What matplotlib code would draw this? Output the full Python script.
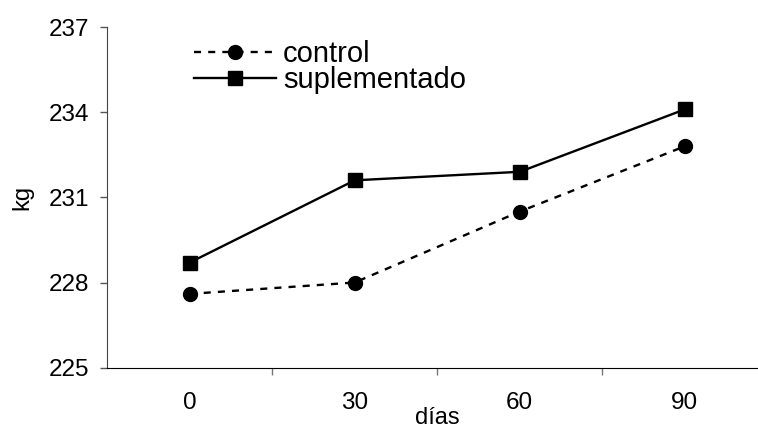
import numpy as np
import matplotlib
matplotlib.use('Agg')
import matplotlib.pyplot as plt

plt.rcParams['font.family'] = ['Liberation Sans', 'DejaVu Sans']

dias = ['0', '30', '60', '90']
control = [227.6, 228.0, 230.5, 232.8]
suplementado = [228.7, 231.6, 231.9, 234.1]

fig = plt.figure(figsize=(7.58, 4.30), dpi=100)
ax = fig.add_axes([0.1412, 0.1449, 0.8713, 0.7923])

x = np.arange(len(dias))
ax.plot(x, control, color='black', lw=1.7, ls=(0, (3, 3)), marker='o', ms=10,
        label='control')
ax.plot(x, suplementado, color='black', lw=1.7, marker='s', ms=10,
        label='suplementado')

ax.set_xlim(-0.5, 3.5)
ax.set_ylim(225, 237)
ax.set_yticks([225, 228, 231, 234, 237])
ax.set_xticks(x)
ax.set_xticklabels(dias)
ax.set_xticks(x[:-1] + 0.5, minor=True)

ax.tick_params(axis='x', which='major', length=0, pad=17.5, labelsize=17.5)
ax.tick_params(axis='x', which='minor', length=5, width=1, color='#777777',
               direction='out')
ax.tick_params(axis='y', length=5, width=1, color='#555555', pad=8,
               labelsize=17.5)

for s in ['top', 'right']:
    ax.spines[s].set_visible(False)
ax.spines['left'].set_color('#444444')
ax.spines['bottom'].set_color('black')

ax.set_xlabel('días', fontsize=17, labelpad=-5)
ax.set_ylabel('kg', fontsize=17, labelpad=11)

ax.legend(loc='upper left', bbox_to_anchor=(0.11, 1.005), frameon=False,
          fontsize=21, handlelength=2.8, handletextpad=0.25,
          labelspacing=-0.05, borderaxespad=0.1)

fig.savefig('out.png', dpi=100)
